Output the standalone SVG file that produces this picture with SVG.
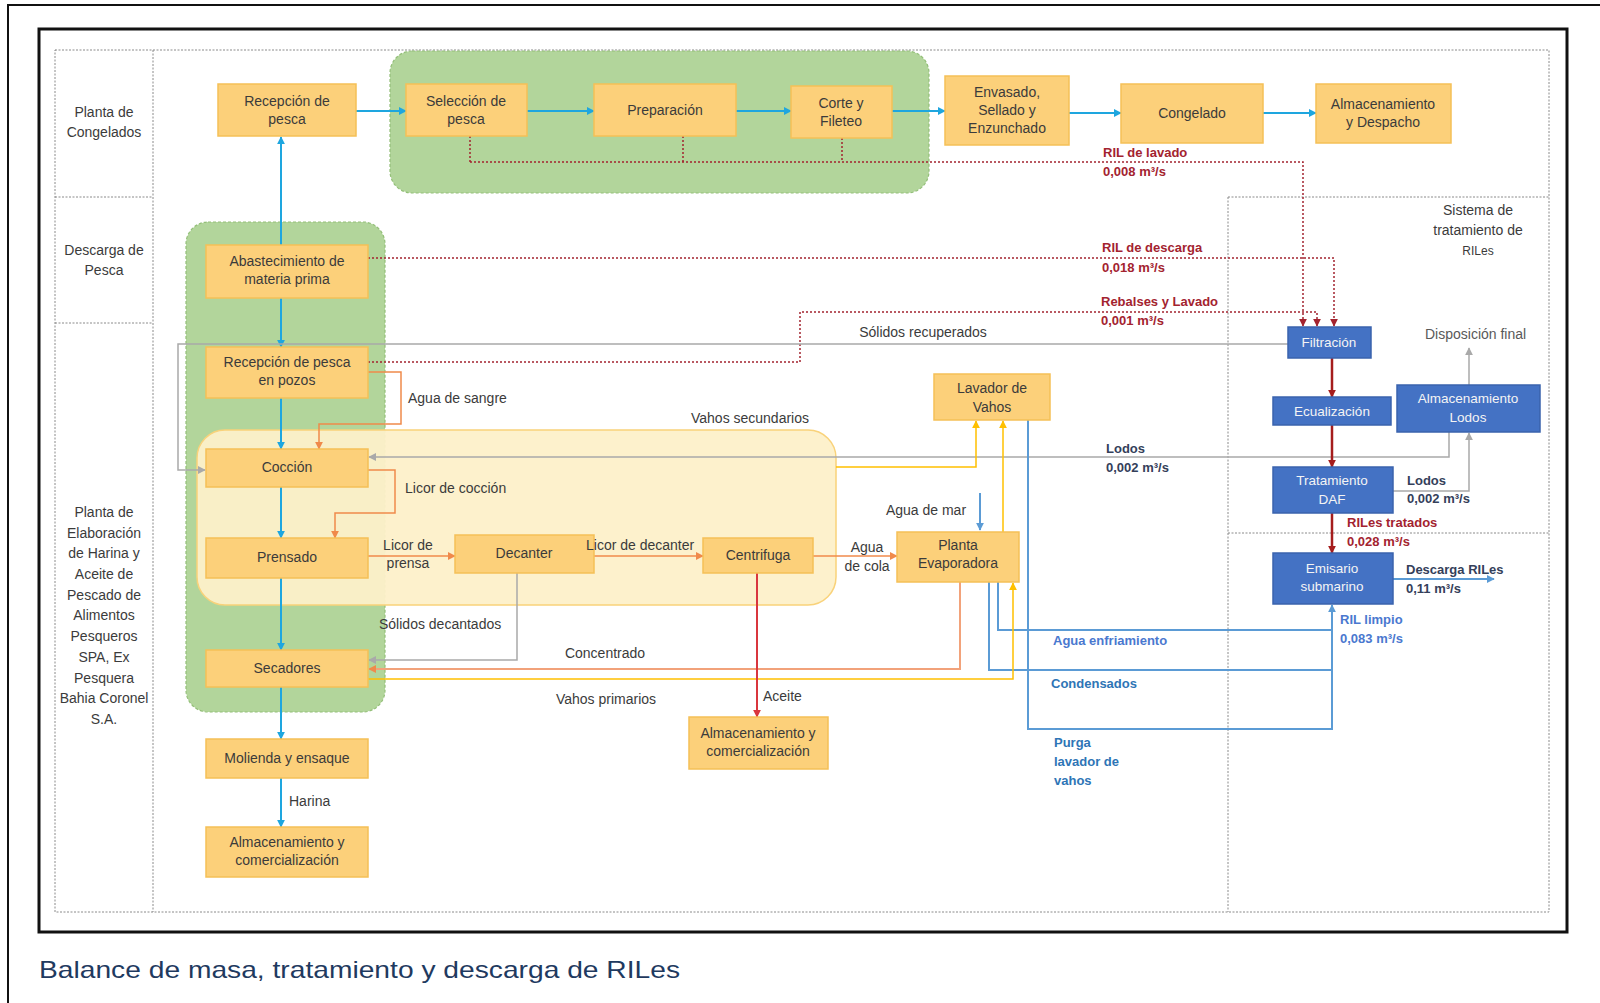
<svg xmlns="http://www.w3.org/2000/svg" width="1600" height="1003" viewBox="0 0 1600 1003">
<defs>
<style>
text{font-family:"Liberation Sans",Arial,sans-serif}
.node rect{fill:#fcd07a;stroke:#f5c057;stroke-width:1.5}
.bnode rect{fill:#4472c4;stroke:#3a63ad;stroke-width:1.5}
.nt{font-size:14px;fill:#3b3b3b;text-anchor:middle}
.bt{font-size:13.5px;fill:#f4f4f4;text-anchor:middle}
.lane{font-size:14px;fill:#3b3b3b;text-anchor:middle}
.lab{font-size:14px;fill:#3b3b3b}
.red{font-size:13px;fill:#a3232f;font-weight:bold}
.navy{font-size:13px;fill:#34405a;font-weight:bold}
.blu{font-size:13px;fill:#4a78cf;font-weight:bold}
.grid{fill:none;stroke:#8a8a8a;stroke-width:1;stroke-dasharray:2 1.5}
.cy{fill:none;stroke:#1ea6df;stroke-width:2}
.rd{fill:none;stroke:#a3232f;stroke-width:1.5;stroke-dasharray:2 2}
.gr{fill:none;stroke:#a9a9a9;stroke-width:1.5}
.or{fill:none;stroke:#f08a4b;stroke-width:1.5}
.sal{fill:none;stroke:#f2a27a;stroke-width:2}
.ye{fill:none;stroke:#ffc000;stroke-width:1.5}
.bl{fill:none;stroke:#5b9bd5;stroke-width:2}
.dr{fill:none;stroke:#a51d1d;stroke-width:2.5}
.oil{fill:none;stroke:#d9363e;stroke-width:2}
</style>
<marker id="mC" viewBox="0 0 10 10" refX="9" refY="5" markerWidth="8" markerHeight="8" markerUnits="userSpaceOnUse" orient="auto"><path d="M0,0 L10,5 L0,10 z" fill="#1ea6df"/></marker>
<marker id="mR" viewBox="0 0 10 10" refX="9" refY="5" markerWidth="8" markerHeight="8" markerUnits="userSpaceOnUse" orient="auto"><path d="M0,0 L10,5 L0,10 z" fill="#a3232f"/></marker>
<marker id="mD" viewBox="0 0 10 10" refX="9" refY="5" markerWidth="8" markerHeight="8" markerUnits="userSpaceOnUse" orient="auto"><path d="M0,0 L10,5 L0,10 z" fill="#a51d1d"/></marker>
<marker id="mG" viewBox="0 0 10 10" refX="9" refY="5" markerWidth="8" markerHeight="8" markerUnits="userSpaceOnUse" orient="auto"><path d="M0,0 L10,5 L0,10 z" fill="#a9a9a9"/></marker>
<marker id="mO" viewBox="0 0 10 10" refX="9" refY="5" markerWidth="8" markerHeight="8" markerUnits="userSpaceOnUse" orient="auto"><path d="M0,0 L10,5 L0,10 z" fill="#f08a4b"/></marker>
<marker id="mY" viewBox="0 0 10 10" refX="9" refY="5" markerWidth="8" markerHeight="8" markerUnits="userSpaceOnUse" orient="auto"><path d="M0,0 L10,5 L0,10 z" fill="#ffc000"/></marker>
<marker id="mB" viewBox="0 0 10 10" refX="9" refY="5" markerWidth="8" markerHeight="8" markerUnits="userSpaceOnUse" orient="auto"><path d="M0,0 L10,5 L0,10 z" fill="#5b9bd5"/></marker>
<marker id="mL" viewBox="0 0 10 10" refX="9" refY="5" markerWidth="8" markerHeight="8" markerUnits="userSpaceOnUse" orient="auto"><path d="M0,0 L10,5 L0,10 z" fill="#d9363e"/></marker>
</defs>
<rect width="1600" height="1003" fill="#ffffff"/>
<path d="M8,1003 V5 H1600" fill="none" stroke="#111" stroke-width="2"/>
<rect x="39" y="29" width="1528" height="903" fill="#fff" stroke="#111" stroke-width="3"/>
<g id="grid">
<rect class="grid" x="55" y="50" width="1494" height="862"/>
<line class="grid" x1="153" y1="50" x2="153" y2="912"/>
<line class="grid" x1="55" y1="197" x2="153" y2="197"/>
<line class="grid" x1="55" y1="323" x2="153" y2="323"/>
<line class="grid" x1="1228" y1="197" x2="1228" y2="912"/>
<line class="grid" x1="1228" y1="197" x2="1549" y2="197"/>
<line class="grid" x1="1228" y1="533" x2="1549" y2="533"/>
</g>
<g id="lane-labels">
<text class="lane" x="104" y="117">Planta de</text>
<text class="lane" x="104" y="137">Congelados</text>
<text class="lane" x="104" y="255">Descarga de</text>
<text class="lane" x="104" y="275">Pesca</text>
<text class="lane" x="104" y="517">Planta de</text>
<text class="lane" x="104" y="538">Elaboración</text>
<text class="lane" x="104" y="558">de Harina y</text>
<text class="lane" x="104" y="579">Aceite de</text>
<text class="lane" x="104" y="600">Pescado de</text>
<text class="lane" x="104" y="620">Alimentos</text>
<text class="lane" x="104" y="641">Pesqueros</text>
<text class="lane" x="104" y="662">SPA, Ex</text>
<text class="lane" x="104" y="683">Pesquera</text>
<text class="lane" x="104" y="703">Bahia Coronel</text>
<text class="lane" x="104" y="724">S.A.</text>
<text class="lane" x="1478" y="215">Sistema de</text>
<text class="lane" x="1478" y="235">tratamiento de</text>
<text class="lane" x="1478" y="255" style="font-size:12px">RILes</text>
</g>
<g id="regions">
<rect x="390" y="51" width="539" height="142" rx="22" fill="#b2d59b" stroke="#93bf78" stroke-width="1.2" stroke-dasharray="3 2"/>
<rect x="186" y="222" width="199" height="490" rx="22" fill="#b2d59b" stroke="#93bf78" stroke-width="1.2" stroke-dasharray="3 2"/>
<rect x="197" y="430" width="639" height="175" rx="28" fill="#fdf0c9" fill-opacity="0.95" stroke="#f9d27a" stroke-width="1.5"/>
</g>
<g id="connectors">
<line class="cy" x1="356" y1="111" x2="406" y2="111" marker-end="url(#mC)"/>
<line class="cy" x1="527" y1="111" x2="594" y2="111" marker-end="url(#mC)"/>
<line class="cy" x1="736" y1="111" x2="791" y2="111" marker-end="url(#mC)"/>
<line class="cy" x1="892" y1="111" x2="945" y2="111" marker-end="url(#mC)"/>
<line class="cy" x1="1069" y1="113" x2="1121" y2="113" marker-end="url(#mC)"/>
<line class="cy" x1="1263" y1="113" x2="1316" y2="113" marker-end="url(#mC)"/>
<line class="cy" x1="281" y1="245" x2="281" y2="137" marker-end="url(#mC)"/>
<line class="cy" x1="281" y1="298" x2="281" y2="347" marker-end="url(#mC)"/>
<line class="cy" x1="281" y1="398" x2="281" y2="449" marker-end="url(#mC)"/>
<line class="cy" x1="281" y1="487" x2="281" y2="538" marker-end="url(#mC)"/>
<line class="cy" x1="281" y1="578" x2="281" y2="650" marker-end="url(#mC)"/>
<line class="cy" x1="281" y1="687" x2="281" y2="739" marker-end="url(#mC)"/>
<line class="cy" x1="281" y1="778" x2="281" y2="827" marker-end="url(#mC)"/>
<path class="rd" d="M470,136 V162"/>
<path class="rd" d="M683,136 V162"/>
<path class="rd" d="M842,138 V162"/>
<path class="rd" d="M470,162 H1303 V326" marker-end="url(#mR)"/>
<path class="rd" d="M368,258 H1334 V326" marker-end="url(#mR)"/>
<path class="rd" d="M368,362 H800 V312 H1317 V326" marker-end="url(#mR)"/>
<path class="gr" d="M1288,344 H178 V470 H205" marker-end="url(#mG)"/>
<path class="gr" d="M1449,431 V457 H369" marker-end="url(#mG)"/>
<path class="gr" d="M1393,491 H1469 V433" marker-end="url(#mG)"/>
<path class="gr" d="M1469,385 V348" marker-end="url(#mG)"/>
<path class="gr" d="M517,573 V660 H369" marker-end="url(#mG)"/>
<line class="dr" x1="1332" y1="358" x2="1332" y2="397" marker-end="url(#mD)"/>
<line class="dr" x1="1332" y1="425" x2="1332" y2="467" marker-end="url(#mD)"/>
<line class="dr" x1="1332" y1="513" x2="1332" y2="553" marker-end="url(#mD)"/>
<line class="bl" x1="1393" y1="579" x2="1494" y2="579" marker-end="url(#mB)"/>
<path class="bl" d="M998,582 V630 H1332"/>
<path class="bl" d="M989,582 V670 H1332"/>
<path class="bl" d="M1028,420 V729 H1332 V605" marker-end="url(#mB)"/>
<line class="bl" x1="980" y1="493" x2="980" y2="530" stroke-width="1.2" marker-end="url(#mB)"/>
<path class="ye" d="M836,467 H976 V421" marker-end="url(#mY)"/>
<path class="ye" d="M1003,532 V421" marker-end="url(#mY)"/>
<path class="ye" d="M368,679 H1013 V583" marker-end="url(#mY)"/>
<path class="or" d="M368,372 H401 V424 H319 V449" marker-end="url(#mO)"/>
<path class="or" d="M368,470 H395 V513 H335 V538" marker-end="url(#mO)"/>
<line class="or" x1="368" y1="556" x2="455" y2="556" marker-end="url(#mO)"/>
<line class="or" x1="594" y1="556" x2="703" y2="556" marker-end="url(#mO)"/>
<line class="or" x1="813" y1="556" x2="897" y2="556" marker-end="url(#mO)"/>
<path class="sal" d="M960,582 V669 H369" marker-end="url(#mO)"/>
<line class="oil" x1="757" y1="573" x2="757" y2="717" marker-end="url(#mL)"/>
</g>
<g id="n-recepcion" class="node"><rect x="218" y="84" width="138" height="52"/><text class="nt" x="287" y="106">Recepción de</text><text class="nt" x="287" y="124">pesca</text></g>
<g id="n-seleccion" class="node"><rect x="406" y="84" width="121" height="52"/><text class="nt" x="466" y="106">Selección de</text><text class="nt" x="466" y="124">pesca</text></g>
<g id="n-preparacion" class="node"><rect x="594" y="84" width="142" height="52"/><text class="nt" x="665" y="115">Preparación</text></g>
<g id="n-corte" class="node"><rect x="791" y="86" width="101" height="52"/><text class="nt" x="841" y="108">Corte y</text><text class="nt" x="841" y="126">Fileteo</text></g>
<g id="n-envasado" class="node"><rect x="945" y="76" width="124" height="69"/><text class="nt" x="1007" y="97">Envasado,</text><text class="nt" x="1007" y="115">Sellado y</text><text class="nt" x="1007" y="133">Enzunchado</text></g>
<g id="n-congelado" class="node"><rect x="1121" y="84" width="142" height="59"/><text class="nt" x="1192" y="118">Congelado</text></g>
<g id="n-despacho" class="node"><rect x="1316" y="84" width="135" height="59"/><text class="nt" x="1383" y="109">Almacenamiento</text><text class="nt" x="1383" y="127">y Despacho</text></g>
<g id="n-abastecimiento" class="node"><rect x="206" y="245" width="162" height="53"/><text class="nt" x="287" y="266">Abastecimiento de</text><text class="nt" x="287" y="284">materia prima</text></g>
<g id="n-pozos" class="node"><rect x="206" y="347" width="162" height="51"/><text class="nt" x="287" y="367">Recepción de pesca</text><text class="nt" x="287" y="385">en pozos</text></g>
<g id="n-coccion" class="node"><rect x="206" y="449" width="162" height="38"/><text class="nt" x="287" y="472">Cocción</text></g>
<g id="n-prensado" class="node"><rect x="206" y="538" width="162" height="40"/><text class="nt" x="287" y="562">Prensado</text></g>
<g id="n-decanter" class="node"><rect x="455" y="535" width="139" height="38"/><text class="nt" x="524" y="558">Decanter</text></g>
<g id="n-centrifuga" class="node"><rect x="703" y="538" width="110" height="35"/><text class="nt" x="758" y="560">Centrifuga</text></g>
<g id="n-evaporadora" class="node"><rect x="897" y="532" width="122" height="50"/><text class="nt" x="958" y="550">Planta</text><text class="nt" x="958" y="568">Evaporadora</text></g>
<g id="n-lavador" class="node"><rect x="934" y="374" width="116" height="46"/><text class="nt" x="992" y="393">Lavador de</text><text class="nt" x="992" y="412">Vahos</text></g>
<g id="n-secadores" class="node"><rect x="206" y="650" width="162" height="37"/><text class="nt" x="287" y="673">Secadores</text></g>
<g id="n-molienda" class="node"><rect x="206" y="739" width="162" height="39"/><text class="nt" x="287" y="763">Molienda y ensaque</text></g>
<g id="n-alm-harina" class="node"><rect x="206" y="827" width="162" height="50"/><text class="nt" x="287" y="847">Almacenamiento y</text><text class="nt" x="287" y="865">comercialización</text></g>
<g id="n-alm-aceite" class="node"><rect x="689" y="717" width="139" height="52"/><text class="nt" x="758" y="738">Almacenamiento y</text><text class="nt" x="758" y="756">comercialización</text></g>
<g id="n-filtracion" class="bnode"><rect x="1288" y="327" width="83" height="31"/><text class="bt" x="1329" y="347">Filtración</text></g>
<g id="n-ecualizacion" class="bnode"><rect x="1273" y="397" width="118" height="28"/><text class="bt" x="1332" y="416">Ecualización</text></g>
<g id="n-lodos" class="bnode"><rect x="1397" y="385" width="143" height="47"/><text class="bt" x="1468" y="403">Almacenamiento</text><text class="bt" x="1468" y="422">Lodos</text></g>
<g id="n-daf" class="bnode"><rect x="1273" y="467" width="120" height="46"/><text class="bt" x="1332" y="485">Tratamiento</text><text class="bt" x="1332" y="504">DAF</text></g>
<g id="n-emisario" class="bnode"><rect x="1273" y="553" width="120" height="51"/><text class="bt" x="1332" y="573">Emisario</text><text class="bt" x="1332" y="591">submarino</text></g>
<g id="labels">
<text class="red" x="1103" y="157">RIL de lavado</text>
<text class="red" x="1103" y="176">0,008 m³/s</text>
<text class="red" x="1102" y="252">RIL de descarga</text>
<text class="red" x="1102" y="272">0,018 m³/s</text>
<text class="red" x="1101" y="306">Rebalses y Lavado</text>
<text class="red" x="1101" y="325">0,001 m³/s</text>
<text class="lab" x="923" y="337" text-anchor="middle">Sólidos recuperados</text>
<text class="lab" x="1425" y="339" style="fill:#595959">Disposición final</text>
<text class="navy" x="1106" y="453">Lodos</text>
<text class="navy" x="1106" y="472">0,002 m³/s</text>
<text class="navy" x="1407" y="485">Lodos</text>
<text class="navy" x="1407" y="503">0,002 m³/s</text>
<text class="red" x="1347" y="527">RILes tratados</text>
<text class="red" x="1347" y="546">0,028 m³/s</text>
<text class="navy" x="1406" y="574">Descarga RILes</text>
<text class="navy" x="1406" y="593">0,11 m³/s</text>
<text class="blu" x="1340" y="624">RIL limpio</text>
<text class="blu" x="1340" y="643">0,083 m³/s</text>
<text class="blu" x="1053" y="645">Agua enfriamiento</text>
<text class="blu" x="1051" y="688" style="fill:#2e75b6">Condensados</text>
<text class="blu" x="1054" y="747" style="fill:#2e75b6">Purga</text>
<text class="blu" x="1054" y="766" style="fill:#2e75b6">lavador de</text>
<text class="blu" x="1054" y="785" style="fill:#2e75b6">vahos</text>
<text class="lab" x="408" y="403">Agua de sangre</text>
<text class="lab" x="405" y="493">Licor de cocción</text>
<text class="lab" x="408" y="550" text-anchor="middle">Licor de</text>
<text class="lab" x="408" y="568" text-anchor="middle">prensa</text>
<text class="lab" x="586" y="550">Licor de decanter</text>
<text class="lab" x="867" y="552" text-anchor="middle">Agua</text>
<text class="lab" x="867" y="571" text-anchor="middle">de cola</text>
<text class="lab" x="926" y="515" text-anchor="middle">Agua de mar</text>
<text class="lab" x="750" y="423" text-anchor="middle">Vahos secundarios</text>
<text class="lab" x="379" y="629">Sólidos decantados</text>
<text class="lab" x="605" y="658" text-anchor="middle">Concentrado</text>
<text class="lab" x="606" y="704" text-anchor="middle">Vahos primarios</text>
<text class="lab" x="763" y="701">Aceite</text>
<text class="lab" x="289" y="806">Harina</text>
</g>
<text x="39" y="978" font-size="24" fill="#1f3a5f" textLength="641" lengthAdjust="spacingAndGlyphs">Balance de masa, tratamiento y descarga de RILes</text>
</svg>
